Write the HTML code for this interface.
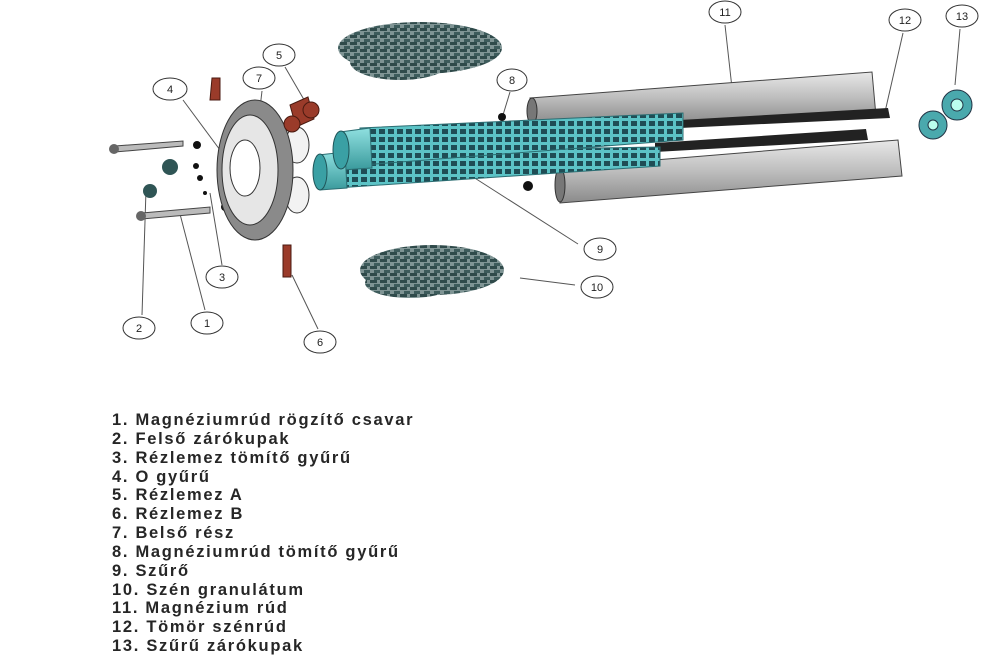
<!DOCTYPE html>
<html><head><meta charset="utf-8"><style>
body{margin:0;background:#fff;width:1000px;height:656px;overflow:hidden;position:relative;font-family:"Liberation Sans",sans-serif}
svg{position:absolute;left:0;top:0}
.list{position:absolute;left:112px;top:411px;font-size:16.5px;font-weight:bold;line-height:18.85px;color:#262626;letter-spacing:1.7px}
</style></head><body>
<svg width="1000" height="400" viewBox="0 0 1000 400">
<defs>
<linearGradient id="g" x1="0" y1="0" x2="0" y2="1"><stop offset="0" stop-color="#e8e8e8"/><stop offset=".5" stop-color="#bdbdbd"/><stop offset="1" stop-color="#8a8a8a"/></linearGradient>
<linearGradient id="c" x1="0" y1="0" x2="0" y2="1"><stop offset="0" stop-color="#8fe0e0"/><stop offset="1" stop-color="#3a9a9c"/></linearGradient>
<pattern id="holes" width="9" height="8" patternUnits="userSpaceOnUse"><rect width="9" height="8" fill="#5cc3c6"/><rect x="1" y="1" width="6" height="5" fill="#1f4d55"/></pattern>
<pattern id="gran" width="10" height="7" patternUnits="userSpaceOnUse"><rect width="10" height="7" fill="#7f9494"/><rect x="0" y="0" width="7" height="3" fill="#2f4a4a"/><rect x="4" y="4" width="6" height="3" fill="#3d5b5b"/></pattern>
</defs>
<g fill="url(#gran)">
<ellipse cx="420" cy="48" rx="82" ry="26"/><ellipse cx="400" cy="62" rx="50" ry="18"/>
<ellipse cx="432" cy="270" rx="72" ry="25"/><ellipse cx="410" cy="283" rx="45" ry="15"/>
</g>
<g stroke="#555" stroke-width="1" fill="none">
<line x1="725" y1="25" x2="733" y2="97"/><line x1="903" y1="33" x2="885" y2="112"/><line x1="960" y1="29" x2="955" y2="85"/>
<line x1="510" y1="92" x2="503" y2="115"/><line x1="578" y1="244" x2="470" y2="175"/><line x1="575" y1="285" x2="520" y2="278"/>
<line x1="183" y1="100" x2="220" y2="150"/><line x1="262" y1="91" x2="258" y2="125"/><line x1="285" y1="67" x2="310" y2="110"/>
<line x1="222" y1="265" x2="210" y2="193"/><line x1="205" y1="310" x2="180" y2="214"/><line x1="142" y1="315" x2="146" y2="190"/><line x1="318" y1="329" x2="292" y2="275"/>
</g>
<polygon points="530,98 872,72 876,116 532,124" fill="url(#g)" stroke="#444"/>
<ellipse cx="532" cy="111" rx="5" ry="13" fill="#777" stroke="#333"/>
<polygon points="557,168 898,140 902,176 560,203" fill="url(#g)" stroke="#444"/>
<ellipse cx="560" cy="185" rx="5" ry="17" fill="#777" stroke="#333"/>
<polygon points="680,120 888,108 890,118 680,128" fill="#222"/>
<polygon points="655,143 866,129 868,140 655,152" fill="#222"/>
<polygon points="335,152 660,147 660,166 337,188" fill="url(#holes)" stroke="#2b6d72"/>
<polygon points="360,128 683,113 683,140 362,165" fill="url(#holes)" stroke="#2b6d72"/>
<polygon points="340,132 370,128 372,168 342,170" fill="url(#c)" stroke="#2b6d72"/>
<polygon points="318,155 345,152 347,188 320,190" fill="url(#c)" stroke="#2b6d72"/>
<ellipse cx="341" cy="150" rx="8" ry="19" fill="#3aa0a4" stroke="#1f5458"/>
<ellipse cx="320" cy="172" rx="7" ry="18" fill="#3aa0a4" stroke="#1f5458"/>
<g fill="#4aa9ad" stroke="#234"><circle cx="957" cy="105" r="15"/><circle cx="957" cy="105" r="6" fill="#bfe"/><circle cx="933" cy="125" r="14"/><circle cx="933" cy="125" r="5" fill="#bfe"/></g>
<polygon points="115,146 183,141 183,146 115,152" fill="#bbb" stroke="#444"/><circle cx="114" cy="149" r="5" fill="#666"/>
<polygon points="142,213 210,207 210,213 142,219" fill="#bbb" stroke="#444"/><circle cx="141" cy="216" r="5" fill="#666"/>
<g fill="#2f5555"><circle cx="150" cy="191" r="7"/><circle cx="170" cy="167" r="8"/></g>
<g fill="#111"><circle cx="197" cy="145" r="4"/><circle cx="196" cy="166" r="3"/><circle cx="200" cy="178" r="3"/><circle cx="205" cy="193" r="2"/><circle cx="225" cy="207" r="4"/><circle cx="502" cy="117" r="4"/><circle cx="528" cy="186" r="5"/></g>
<ellipse cx="297" cy="145" rx="12" ry="18" fill="#f2f2f2" stroke="#333"/><ellipse cx="297" cy="195" rx="12" ry="18" fill="#f2f2f2" stroke="#333"/>
<ellipse cx="255" cy="170" rx="38" ry="70" fill="#8a8a8a" stroke="#333"/>
<ellipse cx="250" cy="170" rx="28" ry="55" fill="#e6e6e6" stroke="#333"/>
<ellipse cx="245" cy="168" rx="15" ry="28" fill="#fff" stroke="#333"/>
<g fill="#9a3b2a" stroke="#4a1a10"><path d="M212,78 h8 v22 h-10 z"/><path d="M290,105 l18,-8 l6,22 l-18,8 z"/><circle cx="311" cy="110" r="8"/><circle cx="292" cy="124" r="8"/><path d="M283,245 h8 v32 h-8 z"/></g>
<g fill="#fff" stroke="#333" stroke-width="1"><ellipse cx="170" cy="89" rx="17" ry="11"/><ellipse cx="259" cy="78" rx="16" ry="11"/><ellipse cx="279" cy="55" rx="16" ry="11"/><ellipse cx="512" cy="80" rx="15" ry="11"/><ellipse cx="725" cy="12" rx="16" ry="11"/><ellipse cx="905" cy="20" rx="16" ry="11"/><ellipse cx="962" cy="16" rx="16" ry="11"/><ellipse cx="600" cy="249" rx="16" ry="11"/><ellipse cx="597" cy="287" rx="16" ry="11"/><ellipse cx="222" cy="277" rx="16" ry="11"/><ellipse cx="207" cy="323" rx="16" ry="11"/><ellipse cx="139" cy="328" rx="16" ry="11"/><ellipse cx="320" cy="342" rx="16" ry="11"/></g>
<g font-family="Liberation Sans" font-size="11" text-anchor="middle" fill="#222">
<text x="170" y="93">4</text><text x="259" y="82">7</text><text x="279" y="59">5</text><text x="512" y="84">8</text><text x="725" y="16">11</text><text x="905" y="24">12</text><text x="962" y="20">13</text><text x="600" y="253">9</text><text x="597" y="291">10</text><text x="222" y="281">3</text><text x="207" y="327">1</text><text x="139" y="332">2</text><text x="320" y="346">6</text></g>
</svg>
<div class="list">
1. Magnéziumrúd rögzítő csavar<br>2. Felső zárókupak<br>3. Rézlemez tömítő gyűrű<br>4. O gyűrű<br>5. Rézlemez A<br>6. Rézlemez B<br>7. Belső rész<br>8. Magnéziumrúd tömítő gyűrű<br>9. Szűrő<br>10. Szén granulátum<br>11. Magnézium rúd<br>12. Tömör szénrúd<br>13. Szűrű zárókupak
</div>
</body></html>
